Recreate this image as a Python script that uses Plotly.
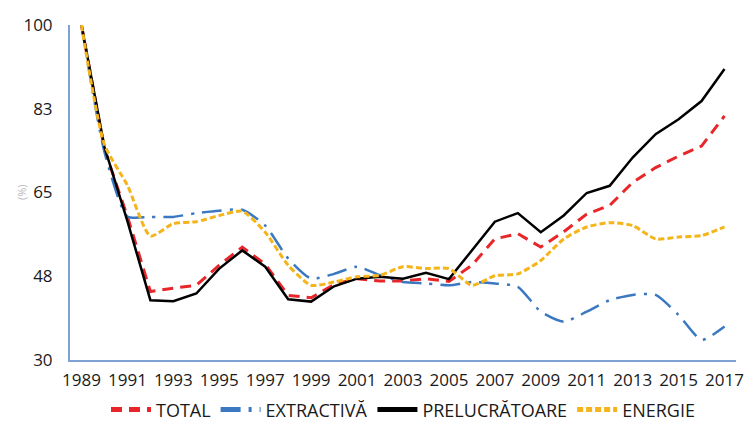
import plotly.graph_objects as go

years = list(range(1989, 2018))
total = [100, 74, 60, 44.3, 45, 45.6, 49.8, 53.6, 50, 43.5, 43, 45.8, 47, 46.5, 46.5,
         47, 46.4, 49.8, 55.3, 56.4, 53.6, 56.8, 60.5, 62.3, 67.1, 70.2, 72.6, 74.7, 81]
extractiva = [100, 73.5, 60, 59.9, 59.9, 60.7, 61.2, 61.4, 58.1, 51.2, 47, 48, 49.5, 47.7, 46.3,
              46, 45.6, 46.3, 46, 45.3, 40.1, 38, 40.1, 42.5, 43.6, 43.6, 39.4, 34.2, 37]
prelucratoare = [100, 74.5, 59, 42.5, 42.3, 43.9, 49.1, 52.9, 49.5, 42.7, 42.2, 45.4, 47.0, 47.4, 47.0,
                 48.2, 46.9, 52.9, 58.9, 60.7, 56.7, 60.2, 64.9, 66.4, 72.3, 77.2, 80.3, 84.1, 90.8]
energie = [100, 75, 66.5, 55.9, 58.5, 58.9, 60.2, 61.1, 56.7, 49.8, 45.6, 46.3, 47.4, 47.7, 49.5,
           49.1, 49.1, 45.6, 47.6, 48, 50.8, 55.3, 57.8, 58.7, 58.1, 55.3, 55.7, 56.0, 57.8]

x_ticks = list(range(1989, 2018, 2))
y_tickvals = [30, 47.5, 65, 82.5, 100]
y_ticktext = ["30", "48", "65", "83", "100"]

fig = go.Figure()
fig.add_trace(go.Scatter(x=years, y=total, name="TOTAL", mode="lines",
                         line=dict(color="#e8262a", width=3, dash="11px,7px")))
fig.add_trace(go.Scatter(x=years, y=extractiva, name="EXTRACTIVĂ", mode="lines",
                         line=dict(color="#3b78c2", width=2.5, dash="20px,8px,3px,8px",
                                   shape="spline", smoothing=0.6)))
fig.add_trace(go.Scatter(x=years, y=prelucratoare, name="PRELUCRĂTOARE", mode="lines",
                         line=dict(color="#000000", width=2.5)))
fig.add_trace(go.Scatter(x=years, y=energie, name="ENERGIE", mode="lines",
                         line=dict(color="#f4b41a", width=3, dash="6px,3px",
                                   shape="spline", smoothing=0.6)))

fig.update_layout(
    width=746, height=415,
    margin=dict(l=62, r=18, t=17, b=63, autoexpand=False),
    paper_bgcolor="white", plot_bgcolor="white",
    font=dict(family="Open Sans, sans-serif", size=17, color="#1a1a1a"),
    showlegend=True,
    legend=dict(orientation="h", x=0.5, xanchor="center", xref="paper",
                y=-0.149, yanchor="middle", yref="paper",
                font=dict(family="Open Sans, sans-serif", size=18, color="#1a1a1a"),
                itemwidth=40, tracegroupgap=0, itemsizing="constant"),
    xaxis=dict(range=[1988.5, 2017.5], tickvals=x_ticks, showgrid=False, zeroline=False,
               showline=True, linecolor="#7ea2d4", linewidth=2, ticks="", ticklen=0,
               ticklabelstandoff=4, automargin=False),
    yaxis=dict(range=[30, 100], tickvals=y_tickvals, ticktext=y_ticktext, showgrid=False,
               zeroline=False, showline=True, linecolor="#7ea2d4", linewidth=2, ticks="",
               ticklabelstandoff=12, automargin=False),
)
fig.add_annotation(text="(%)", xref="paper", yref="paper", x=-0.087, y=0.5,
                   showarrow=False, textangle=-90, font=dict(size=11, color="#b5b5b5"))

fig.write_html("out.html")
